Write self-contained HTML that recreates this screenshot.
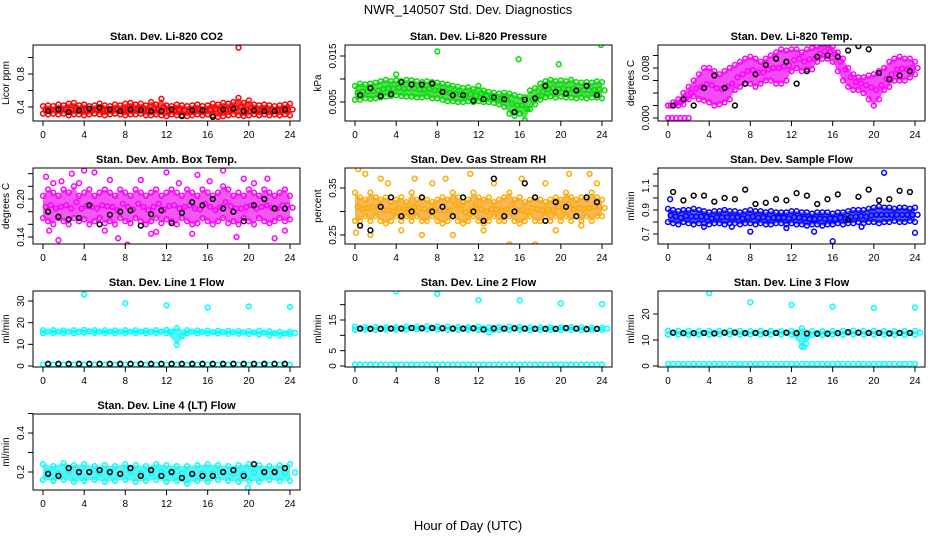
<!DOCTYPE html>
<html><head><meta charset="utf-8">
<style>
html,body{margin:0;padding:0;background:#fff;}
svg{display:block;font-family:"Liberation Sans",sans-serif;}
</style></head>
<body>
<svg id="chart" width="936" height="540" viewBox="0 0 936 540" xmlns="http://www.w3.org/2000/svg">
<rect x="0" y="0" width="936" height="540" fill="#fff"/>
<text x="468" y="14" text-anchor="middle" font-size="13">NWR_140507  Std. Dev. Diagnostics</text>
<text x="468" y="530" text-anchor="middle" font-size="13">Hour of Day (UTC)</text>
</svg>
<script>
// ---- data ----
const xTicks = [0,4,8,12,16,20,24];

const co2Hi = [0.41,0.42,0.41,0.43,0.42,0.44,0.45,0.42,0.43,0.41,0.42,0.44,0.42,0.41,0.43,0.42,0.44,0.45,0.43,0.44,0.42,0.46,0.43,0.50,0.42,0.41,0.43,0.42,0.41,0.42,0.43,0.41,0.42,0.44,0.43,0.45,0.44,0.46,0.51,0.45,0.48,0.43,0.42,0.43,0.42,0.41,0.42,0.43,0.44];
const co2Lo = [0.32,0.31,0.32,0.31,0.32,0.30,0.31,0.31,0.30,0.31,0.32,0.31,0.30,0.31,0.32,0.31,0.30,0.31,0.31,0.32,0.30,0.30,0.31,0.30,0.29,0.31,0.30,0.30,0.29,0.30,0.31,0.30,0.31,0.30,0.28,0.29,0.30,0.31,0.30,0.29,0.30,0.31,0.30,0.31,0.30,0.31,0.30,0.31,0.30];
const co2Ref = [0.35,0.37,0.34,0.36,0.38,0.39,0.37,0.35,0.37,0.36,0.35,0.35,0.37,0.29,0.36,0.36,0.28,0.37,0.38,0.35,0.36,0.35,0.35,0.37];
const co2OutX = [19.0]; const co2OutY = [1.12];

const presHi = [0.0085,0.009,0.0088,0.009,0.0092,0.0095,0.0098,0.0095,0.0097,0.0095,0.0098,0.0097,0.0095,0.0093,0.0095,0.0093,0.0092,0.009,0.0088,0.0085,0.0083,0.008,0.0082,0.0078,0.0085,0.0075,0.0072,0.007,0.0068,0.007,0.0068,0.0065,0.0062,0.006,0.0075,0.008,0.009,0.0095,0.0098,0.0095,0.0097,0.0095,0.0098,0.0093,0.0092,0.0093,0.0092,0.0095,0.0093];
const presLo = [0.0055,0.0055,0.0058,0.0057,0.0058,0.006,0.0062,0.0063,0.0065,0.0063,0.0062,0.0062,0.006,0.006,0.0062,0.0058,0.0058,0.0055,0.0052,0.0052,0.005,0.005,0.0052,0.005,0.0052,0.005,0.005,0.0048,0.0045,0.004,0.0025,0.002,0.0025,0.001,0.0035,0.0045,0.0055,0.006,0.0062,0.006,0.0062,0.006,0.006,0.0058,0.006,0.0058,0.006,0.006,0.0058];
const presRef = [0.0065,0.008,0.0063,0.0067,0.0093,0.0088,0.0088,0.009,0.0072,0.0065,0.0065,0.0053,0.0056,0.006,0.0056,0.0028,0.0055,0.0058,0.0085,0.0072,0.0068,0.0075,0.0085,0.0065];
const presOutX = [4,8,15.9,19.8,23.9]; const presOutY = [0.011,0.016,0.0143,0.0132,0.0174];

const tempHi = [0.002,0.0025,0.003,0.004,0.005,0.006,0.007,0.008,0.008,0.0075,0.007,0.0075,0.008,0.0085,0.009,0.0095,0.0098,0.0095,0.009,0.0095,0.01,0.0105,0.011,0.0108,0.011,0.011,0.0105,0.011,0.0112,0.0115,0.0118,0.0117,0.0115,0.0105,0.0095,0.008,0.007,0.0065,0.0065,0.0068,0.007,0.0075,0.008,0.009,0.0095,0.0098,0.0095,0.0095,0.009];
const tempLo = [0.002,0.002,0.002,0.0022,0.003,0.0035,0.003,0.0028,0.0025,0.002,0.0022,0.0025,0.003,0.0045,0.005,0.0055,0.0055,0.005,0.0055,0.006,0.006,0.0055,0.0055,0.006,0.0075,0.008,0.0075,0.0078,0.0078,0.009,0.0095,0.0095,0.009,0.0075,0.006,0.005,0.0045,0.0045,0.004,0.003,0.002,0.003,0.0045,0.005,0.006,0.006,0.006,0.0065,0.007];
const tempRef = [0.002,0.003,0.002,0.0048,0.0068,0.0048,0.002,0.0055,0.007,0.0085,0.0095,0.009,0.0055,0.0075,0.0098,0.01,0.0098,0.0108,0.0115,0.011,0.0072,0.0062,0.0068,0.0075];
const tempOutX = [0,0.4,0.8,1.2,1.6,2.0]; const tempOutY = [0,0,0,0,0,0];

const ambHi = [0.205,0.215,0.21,0.205,0.215,0.21,0.22,0.205,0.21,0.215,0.205,0.21,0.215,0.21,0.205,0.215,0.21,0.205,0.215,0.21,0.205,0.21,0.215,0.205,0.21,0.215,0.21,0.205,0.215,0.21,0.205,0.215,0.21,0.205,0.21,0.22,0.215,0.205,0.21,0.205,0.215,0.21,0.205,0.215,0.21,0.205,0.21,0.215,0.205];
const ambLo = [0.17,0.165,0.16,0.17,0.165,0.16,0.17,0.165,0.168,0.16,0.165,0.17,0.162,0.165,0.16,0.17,0.165,0.162,0.17,0.165,0.16,0.165,0.17,0.162,0.168,0.165,0.16,0.17,0.165,0.16,0.162,0.17,0.165,0.16,0.165,0.17,0.162,0.165,0.16,0.17,0.165,0.16,0.17,0.165,0.162,0.165,0.17,0.165,0.168];
const ambRef = [0.18,0.172,0.168,0.17,0.19,0.16,0.175,0.18,0.182,0.158,0.176,0.182,0.162,0.178,0.195,0.19,0.2,0.185,0.18,0.165,0.19,0.2,0.185,0.185];
const ambOutX = [0.3,0.6,1,1.5,2.8,3.5,4,5,6,7.3,8.2,9.5,10.5,12,13.2,14.5,16.2,17.5,18.8,20.5,21.8,22.5,23.5,1.8,6.5,11,15,19.5];
const ambOutY = [0.235,0.15,0.225,0.135,0.24,0.225,0.245,0.242,0.15,0.138,0.128,0.23,0.145,0.242,0.225,0.145,0.228,0.245,0.14,0.225,0.232,0.138,0.15,0.228,0.23,0.148,0.238,0.232];

const rhHi = [0.34,0.33,0.325,0.34,0.33,0.325,0.33,0.32,0.325,0.33,0.32,0.34,0.325,0.33,0.325,0.32,0.325,0.33,0.325,0.34,0.33,0.32,0.325,0.34,0.33,0.325,0.33,0.32,0.325,0.33,0.34,0.325,0.33,0.32,0.325,0.33,0.325,0.32,0.325,0.33,0.325,0.34,0.33,0.325,0.33,0.325,0.34,0.33,0.325];
const rhLo = [0.28,0.28,0.29,0.28,0.29,0.28,0.275,0.28,0.29,0.28,0.29,0.28,0.29,0.28,0.28,0.29,0.28,0.275,0.28,0.29,0.28,0.275,0.28,0.29,0.28,0.275,0.28,0.29,0.28,0.28,0.29,0.28,0.275,0.28,0.29,0.28,0.28,0.29,0.28,0.29,0.28,0.29,0.28,0.29,0.28,0.29,0.28,0.29,0.29];
const rhRef = [0.27,0.26,0.31,0.33,0.29,0.30,0.33,0.30,0.31,0.29,0.33,0.30,0.28,0.37,0.29,0.30,0.36,0.33,0.28,0.32,0.31,0.29,0.33,0.32];
const rhOutX = [0.1,0.3,1,1.5,2.5,3.2,4.5,5.8,6.5,7.5,8.8,9.5,10.2,11.2,12.5,13.5,15,16.2,17.5,18.5,19.5,20.8,22,22.8,23.5];
const rhOutY = [0.255,0.39,0.38,0.25,0.37,0.36,0.26,0.37,0.25,0.36,0.37,0.25,0.22,0.38,0.26,0.36,0.23,0.37,0.23,0.36,0.26,0.38,0.27,0.38,0.36];

const flowHi = [0.91,0.9,0.89,0.9,0.9,0.91,0.9,0.89,0.88,0.89,0.89,0.9,0.89,0.89,0.88,0.89,0.9,0.89,0.89,0.88,0.89,0.88,0.88,0.88,0.89,0.89,0.88,0.88,0.87,0.88,0.88,0.88,0.87,0.88,0.88,0.89,0.9,0.9,0.9,0.91,0.92,0.93,0.92,0.92,0.91,0.92,0.92,0.91,0.92];
const flowLo = [0.8,0.79,0.78,0.8,0.79,0.78,0.79,0.79,0.78,0.79,0.79,0.78,0.79,0.79,0.78,0.79,0.79,0.78,0.79,0.78,0.78,0.79,0.79,0.78,0.79,0.78,0.78,0.77,0.78,0.78,0.77,0.78,0.78,0.79,0.78,0.79,0.79,0.8,0.79,0.8,0.8,0.79,0.8,0.8,0.81,0.8,0.8,0.81,0.8];
const flowRef = [1.05,0.98,1.02,1.02,0.97,1.0,0.99,1.07,0.95,0.96,0.99,0.98,1.04,1.02,0.95,0.99,1.03,0.82,1.01,1.07,0.98,0.99,1.06,1.05];
const flowOutX = [0.2,8,14.2,16,21,24,3.5,6.2,11.5,18.8]; const flowOutY = [0.99,0.72,0.72,0.64,1.21,0.71,0.76,0.76,0.75,0.76];

const l1Hi = [16.5,16.5,16.4,16.5,16.6,16.5,16.5,16.4,16.5,16.5,16.4,16.5,16.6,17.5,16.5,16.4,16.3,16.2,16.2,16.1,16.1,16.2,16.0,15.8,15.8];
const l1Lo = [15.2,15.3,15.3,15.2,15.4,15.3,15.3,15.2,15.3,15.3,15.2,15.3,15.2,9.8,15.2,15.1,15.0,15.0,14.9,14.9,14.8,14.6,14.2,14.2,14.8];
const l1Ref = [1,1,1,1,1,1,1,1,1,1,1,1,1,1,1,1,1,1,1,1,1,1,1,1];
const l1Base = [0.6,0.6,0.6,0.6,0.6,0.6,0.6,0.6,0.6,0.6,0.6,0.6,0.6,0.6,0.6,0.6,0.6,0.6,0.6,0.6,0.6,0.6,0.6,0.6,0.6];
const l1OutX = [4,8,12,16,20,24]; const l1OutY = [33,29,28,27,27.5,27.3];

const l2Hi = [12.8,12.7,12.7,12.6,12.7,12.8,12.8,12.9,12.8,12.8,12.7,12.7,12.8,12.6,12.7,12.8,12.7,12.6,12.6,12.6,12.6,12.7,12.6,12.5,12.5];
const l2Lo = [11.8,11.9,11.8,11.9,11.9,11.9,12.0,11.9,11.9,11.8,11.8,11.9,11.8,11.0,11.8,11.8,11.8,11.7,11.8,11.8,11.8,11.8,11.7,11.8,11.8];
const l2Ref = [12.2,12.1,12.1,12.2,12.2,12.4,12.3,12.4,12.3,12.2,12.2,12.3,11.9,12.3,12.2,12.3,12.2,12.1,12.1,12.1,12.4,12.2,12.0,12.1];
const l2Base = [0.5,0.5,0.5,0.5,0.5,0.5,0.5,0.5,0.5,0.5,0.5,0.5,0.5,0.5,0.5,0.5,0.5,0.5,0.5,0.5,0.5,0.5,0.5,0.5,0.5];
const l2OutX = [4,8,12,16,20,24]; const l2OutY = [24.3,23.5,21.5,21.4,20.4,20.2];

const l3Hi = [13.6,13.5,13.5,13.4,13.5,13.5,13.6,13.5,13.4,13.5,13.5,13.4,13.5,14.5,13.4,13.4,13.5,13.5,13.6,13.5,13.5,13.4,13.4,13.5,13.5];
const l3Lo = [12.0,12.1,12.0,12.1,12.1,12.2,12.1,12.0,12.1,12.1,12.0,12.1,12.0,7.5,12.0,12.0,12.1,12.1,12.2,12.1,12.1,12.0,12.0,12.0,12.1];
const l3Ref = [12.8,12.6,12.6,12.7,12.5,12.8,12.9,12.6,12.7,12.6,12.7,12.8,12.6,12.5,12.4,12.4,12.6,13.0,12.8,12.7,12.7,12.5,12.7,12.7];
const l3Base = [0.8,0.8,0.8,0.8,0.8,0.8,0.8,0.8,0.8,0.8,0.8,0.8,0.8,0.8,0.8,0.8,0.8,0.8,0.8,0.8,0.8,0.8,0.8,0.8,0.8];
const l3OutX = [4,8,12,13.2,13.4,16,20,24]; const l3OutY = [28,24.5,23.5,7.3,8.6,22.8,22.3,22.5];

const l4Hi = [0.24,0.23,0.245,0.235,0.24,0.23,0.235,0.23,0.24,0.235,0.23,0.24,0.235,0.23,0.23,0.235,0.24,0.235,0.23,0.235,0.24,0.235,0.23,0.235,0.24];
const l4Lo = [0.16,0.155,0.16,0.15,0.155,0.16,0.15,0.155,0.16,0.15,0.155,0.16,0.15,0.155,0.14,0.155,0.15,0.16,0.155,0.15,0.155,0.15,0.16,0.155,0.155];
const l4Ref = [0.19,0.18,0.22,0.2,0.2,0.21,0.2,0.19,0.22,0.18,0.21,0.18,0.2,0.17,0.19,0.18,0.18,0.2,0.21,0.18,0.24,0.2,0.2,0.22];
const l4OutX = [4,12,19.9,19.9]; const l4OutY = [0.58,0.57,0.52,0.12];

// ---- layout ----
const NS = "http://www.w3.org/2000/svg";
const svg = document.getElementById('chart');
function mk(tag, attrs, parent){
  const el = document.createElementNS(NS, tag);
  for (const k in attrs) el.setAttribute(k, attrs[k]);
  (parent||svg).appendChild(el);
  return el;
}
const colX0 = [43,355,668];
const rowTop = [45,168,291,414];
const boxH = 76;

const panels = [
 {name:'co2',title:'Stan. Dev. Li-820 CO2',ylab:'Licor ppm',c:0,r:0,col:'#ff0000',band:'#ee1111',hi:co2Hi,lo:co2Lo,ref:co2Ref,ox:co2OutX,oy:co2OutY,v1:0.4,p1:107,v2:0.8,p2:74,ticks:[0.4,0.6,0.8,1.0],labels:['0.4','','0.8','']},
 {name:'pressure',title:'Stan. Dev. Li-820 Pressure',ylab:'kPa',c:1,r:0,col:'#00dd00',band:'#22cc22',hi:presHi,lo:presLo,ref:presRef,ox:presOutX,oy:presOutY,v1:0.005,p1:102,v2:0.015,p2:56,ticks:[0.005,0.010,0.015],labels:['0.005','','0.015']},
 {name:'li820-temp',title:'Stan. Dev. Li-820 Temp.',ylab:'degrees C',c:2,r:0,col:'#ff00ff',band:'#ee11ee',hi:tempHi,lo:tempLo,ref:tempRef,ox:tempOutX,oy:tempOutY,v1:0,p1:118,v2:0.008,p2:68,ticks:[0,0.002,0.004,0.006,0.008,0.010],labels:['0.000','','','','0.008','']},
 {name:'amb-box-temp',title:'Stan. Dev. Amb. Box Temp.',ylab:'degrees C',c:0,r:1,col:'#ff00ff',band:'#ee22ee',hi:ambHi,lo:ambLo,ref:ambRef,ox:ambOutX,oy:ambOutY,v1:0.20,p1:199,v2:0.14,p2:237,ticks:[0.14,0.16,0.18,0.20,0.22,0.24],labels:['0.14','','','0.20','','']},
 {name:'gas-stream-rh',title:'Stan. Dev. Gas Stream RH',ylab:'percent',c:1,r:1,col:'#ffaa00',band:'#f0a020',hi:rhHi,lo:rhLo,ref:rhRef,ox:rhOutX,oy:rhOutY,v1:0.35,p1:188,v2:0.25,p2:235,ticks:[0.25,0.30,0.35],labels:['0.25','','0.35']},
 {name:'sample-flow',title:'Stan. Dev. Sample Flow',ylab:'ml/min',c:2,r:1,col:'#0000ff',band:'#1a22ee',hi:flowHi,lo:flowLo,ref:flowRef,ox:flowOutX,oy:flowOutY,v1:1.1,p1:186,v2:0.7,p2:234,ticks:[0.7,0.8,0.9,1.0,1.1,1.2],labels:['0.7','','0.9','','1.1','']},
 {name:'line1-flow',title:'Stan. Dev. Line 1 Flow',ylab:'ml/min',c:0,r:2,col:'#00ffff',band:'#22eeee',hi:l1Hi,lo:l1Lo,ref:l1Ref,base:l1Base,ox:l1OutX,oy:l1OutY,v1:0,p1:366,v2:30,p2:301,ticks:[0,10,20,30],labels:['0','10','20','30']},
 {name:'line2-flow',title:'Stan. Dev. Line 2 Flow',ylab:'ml/min',c:1,r:2,col:'#00ffff',band:'#22eeee',hi:l2Hi,lo:l2Lo,ref:l2Ref,base:l2Base,ox:l2OutX,oy:l2OutY,v1:0,p1:366,v2:15,p2:320,ticks:[0,5,10,15,20],labels:['0','5','','15','']},
 {name:'line3-flow',title:'Stan. Dev. Line 3 Flow',ylab:'ml/min',c:2,r:2,col:'#00ffff',band:'#22eeee',hi:l3Hi,lo:l3Lo,ref:l3Ref,base:l3Base,ox:l3OutX,oy:l3OutY,v1:0,p1:366,v2:20,p2:314,ticks:[0,10,20],labels:['0','10','20']},
 {name:'line4-flow',title:'Stan. Dev. Line 4 (LT) Flow',ylab:'ml/min',c:0,r:3,col:'#00ffff',band:'#22eeee',hi:l4Hi,lo:l4Lo,ref:l4Ref,ox:l4OutX,oy:l4OutY,v1:0.2,p1:472,v2:0.4,p2:433,ticks:[0.2,0.3,0.4,0.5],labels:['0.2','','0.4','']}
];

panels.forEach(p => {
  const x0 = colX0[p.c], top = rowTop[p.r], bottom = top + boxH;
  const left = x0 - 10, right = x0 + 257;
  const xs = v => x0 + v * 247 / 24;
  const ys = v => p.p1 + (v - p.v1) * (p.p2 - p.p1) / (p.v2 - p.v1);
  const g = mk('g', {});
  
  

  const t = mk('text', {x:(left+right)/2, y:top-5, 'text-anchor':'middle', 'font-size':11, 'font-weight':'bold'}, g);
  t.textContent = p.title;
  
  

  const cid = 'clip-' + p.name;
  const cp = mk('clipPath', {id:cid}, g);
  mk('rect', {x:left, y:top, width:right-left, height:boxH}, cp);
  const plot = mk('g', {'clip-path':'url(#'+cid+')'}, g);
  
  

  const n = p.hi.length;
  const tx = i => i * 24 / (n - 1);
  let d = '';
  for (let i = 0; i < n; i++) d += (i ? 'L' : 'M') + xs(tx(i)).toFixed(1) + ',' + ys(p.hi[i]).toFixed(1);
  for (let i = n - 1; i >= 0; i--) d += 'L' + xs(tx(i)).toFixed(1) + ',' + ys(p.lo[i]).toFixed(1);
  const band = mk('path', {d:d+'Z', fill:p.band, 'fill-opacity':0.75, stroke:'none'}, plot);
  
  

  const circ = (x, y, color, nm) => {
    const c = mk('circle', {cx:xs(x).toFixed(1), cy:ys(y).toFixed(1), r:2.4, fill:'none', stroke:color, 'stroke-width':1.5}, plot);
    
    
  };
  for (let i = 0; i < n; i++) {
    circ(tx(i), p.hi[i], p.col, p.name + '-point');
    circ(tx(i), p.lo[i], p.col, p.name + '-point');
    circ(tx(i) + 12 / (n - 1), (p.hi[i] + p.lo[i]) / 2, p.col, p.name + '-point');
  }
  if (p.base) {
    const nb = p.base.length;
    for (let i = 0; i < nb; i++) {
      circ(i * 24 / (nb - 1), p.base[i], p.col, p.name + '-zero-point');
      if (i < nb - 1) circ(i * 24 / (nb - 1) + 0.5, p.base[i], p.col, p.name + '-zero-point');
    }
  }
  for (let i = 0; i < p.ox.length; i++) circ(p.ox[i], p.oy[i], p.col, p.name + '-outlier');
  for (let i = 0; i < p.ref.length; i++) circ(i + 0.5, p.ref[i], '#000', p.name + '-ref-point');

  const box = mk('rect', {x:left, y:top, width:right-left, height:boxH, fill:'none', stroke:'#000', 'stroke-width':1}, g);
  
  

  xTicks.forEach(v => {
    const xx = xs(v);
    mk('line', {x1:xx, x2:xx, y1:bottom, y2:bottom+5, stroke:'#000'}, g);
    const lt = mk('text', {x:xx, y:bottom+17, 'text-anchor':'middle', 'font-size':10}, g);
    lt.textContent = v;
    
    
  });
  p.ticks.forEach((v, i) => {
    const yy = ys(v);
    if (yy < top - 1 || yy > bottom + 1) return;
    mk('line', {x1:left-5, x2:left, y1:yy, y2:yy, stroke:'#000'}, g);
    if (p.labels[i]) {
      const lt = mk('text', {x:left-9, y:yy, 'text-anchor':'middle', 'font-size':10, transform:'rotate(-90 '+(left-9)+' '+yy+')'}, g);
      lt.textContent = p.labels[i];
      
      
    }
  });
  const yl = left - 24, ym = (top + bottom) / 2;
  const ylt = mk('text', {x:yl, y:ym, 'text-anchor':'middle', 'font-size':10, transform:'rotate(-90 '+yl+' '+ym+')'}, g);
  ylt.textContent = p.ylab;
  
  
});
</script>
</body></html>
